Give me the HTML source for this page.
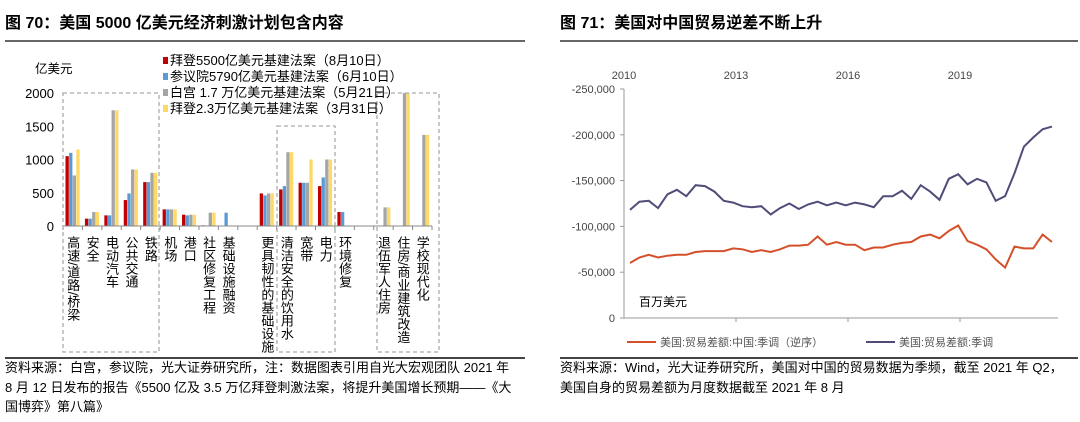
<!DOCTYPE html>
<html><head><meta charset="utf-8">
<style>
body{margin:0;width:1080px;height:422px;background:#fff;overflow:hidden;position:relative;font-family:"Liberation Sans","Noto Sans CJK SC",sans-serif;color:#000}
.abs{position:absolute;white-space:nowrap}
.title{font-size:16px;font-weight:bold;top:9px}
.hr{position:absolute;height:2px;background:#666}
.src{font-size:13px;line-height:19.5px;white-space:normal}
</style></head><body>
<div class="abs title" style="left:5px">图 70：美国 5000 亿美元经济刺激计划包含内容</div>
<div class="abs title" style="left:560px">图 71：美国对中国贸易逆差不断上升</div>
<div class="hr" style="left:5px;top:40px;width:520px"></div>
<div class="hr" style="left:560px;top:40px;width:518px"></div>
<div class="hr" style="left:5px;top:357px;width:520px;height:1.5px;background:#444"></div>
<div class="hr" style="left:560px;top:357px;width:518px;height:1.5px;background:#444"></div>
<div class="abs src" style="left:5px;top:358px;width:512px">资料来源：白宫，参议院，光大证券研究所，注：数据图表引用自光大宏观团队 2021 年 8 月 12 日发布的报告《5500 亿及 3.5 万亿拜登刺激法案，将提升美国增长预期——《大国博弈》第八篇》</div>
<div class="abs src" style="left:560px;top:358px;width:515px">资料来源：Wind，光大证券研究所，美国对中国的贸易数据为季频，截至 2021 年 Q2，美国自身的贸易差额为月度数据截至 2021 年 8 月</div>

<svg id="left" width="540" height="358" style="position:absolute;left:0;top:0"></svg>
<svg id="right" width="540" height="358" style="position:absolute;left:540px;top:0"></svg>

<script>
const categories=["高速/道路/桥梁","安全","电动汽车","公共交通","铁路","机场","港口","社区修复工程","基础设施融资","","更具韧性的基础设施","清洁安全的饮用水","宽带","电力","环境修复","","退伍军人住房","住房/商业建筑改造","学校现代化"];
const biden550=[1050,110,160,390,660,250,170,10,0,0,490,550,650,600,210,0,0,0,0];
const senate579=[1100,110,160,490,660,250,160,0,200,0,460,600,650,730,210,0,0,0,0];
const whiteHouse17=[760,210,1740,850,800,250,170,200,0,0,490,1110,650,1000,0,0,280,2000,1370];
const biden23=[1150,210,1740,850,800,250,170,200,0,0,490,1110,1000,1000,0,0,280,2000,1370];
const leftTicks=[0,500,1000,1500,2000];
const seriesNames=["拜登5500亿美元基建法案（8月10日）","参议院5790亿美元基建法案（6月10日）","白宫 1.7 万亿美元基建法案（5月21日）","拜登2.3万亿美元基建法案（3月31日）"];

const years=["2010","2013","2016","2019"];
const rightTicks=[0,-50000,-100000,-150000,-200000,-250000];
const chinaDeficit=[-60000,-66000,-69000,-66000,-68000,-69000,-69000,-72000,-73000,-73000,-73000,-76000,-75000,-72000,-74000,-72000,-75000,-79000,-79000,-80000,-89000,-80000,-83000,-80000,-80000,-74000,-77000,-77000,-80000,-82000,-83000,-89000,-91000,-87000,-95000,-101000,-84000,-80000,-75000,-64000,-55000,-78000,-76000,-76000,-91000,-83000];
const usDeficit=[-118000,-127000,-128000,-120000,-135000,-140000,-133000,-145000,-144000,-138000,-128000,-126000,-122000,-121000,-122000,-113000,-120000,-125000,-119000,-124000,-127000,-123000,-126000,-123000,-126000,-124000,-121000,-133000,-133000,-139000,-130000,-145000,-138000,-129000,-152000,-157000,-146000,-152000,-148000,-128000,-133000,-158000,-187000,-197000,-206000,-209000];

const NS="http://www.w3.org/2000/svg";
function mk(svg,tag,attrs,text){const e=document.createElementNS(NS,tag);for(const k in attrs)e.setAttribute(k,attrs[k]);if(text!==undefined)e.textContent=text;svg.appendChild(e);return e;}

// LEFT
(function(){
const svg=document.getElementById('left');
const x0=63,x1=432,y0=226,y2000=93;
const slot=(x1-x0)/categories.length;
const Y=v=>y0-(v/2000)*(y0-y2000);
const X=i=>x0+slot*i;
const F='"Liberation Sans","Noto Sans CJK SC",sans-serif';
leftTicks.forEach(t=>{const e=mk(svg,'text',{x:54,y:Y(t)+5,'text-anchor':'end','font-size':13,'font-family':F},t);

});
const u=mk(svg,'text',{x:35,y:73,'font-size':12.5,'font-family':F},'亿美元');


const series=[biden550,senate579,whiteHouse17,biden23];
const colors=['#c00000','#5b9bd5','#a5a5a5','#ffd966'];
const bw=3.6;
categories.forEach((c,i)=>{
 series.forEach((s,k)=>{const v=s[i];if(!v)return;
  const r=mk(svg,'rect',{x:X(i)+2.5+k*bw,y:Y(v),width:bw-0.3,height:y0-Y(v),fill:colors[k]});
  
  
 });
 if(c){const t=mk(svg,'text',{x:X(i)+slot/2,y:236,'font-size':13,'font-family':F,style:'writing-mode:vertical-rl;text-orientation:mixed'},c);
 
 }
});
const ax=mk(svg,'line',{x1:x0,y1:y0,x2:x1,y2:y0,stroke:'#888','stroke-width':1});


for(let i=0;i<=categories.length;i++){mk(svg,'line',{x1:X(i),y1:y0,x2:X(i),y2:y0+4,stroke:'#888'});}
[[63,93,159],[277,126,335],[377,93,439]].forEach(b=>{const r=mk(svg,'rect',{x:b[0],y:b[1],width:b[2]-b[0],height:352-b[1],fill:'none',stroke:'#aaa','stroke-width':1.3,'stroke-dasharray':'4,3'});

});
seriesNames.forEach((n,k)=>{
 const g=mk(svg,'g',{});
 
 
 mk(g,'rect',{x:163,y:57+k*16,width:5,height:7,fill:colors[k]});
 mk(g,'text',{x:170,y:65+k*16,'font-size':13,'font-family':F},n);
});
})();

// RIGHT
(function(){
const svg=document.getElementById('right');
const off=540;
const xa=624-off,xb=1058-off,x0=630-off,xN=1052-off,yb=318,yt=89;
const Y=v=>yb-(v/-250000)*(yb-yt);
const X=i=>x0+(xN-x0)*i/(usDeficit.length-1);
const F='"Liberation Sans","Noto Sans CJK SC",sans-serif';
rightTicks.forEach(t=>{const lab=t===0?'0':'-'+Math.abs(t).toLocaleString('en-US');
 const e=mk(svg,'text',{x:xa-9,y:Y(t)+4,'text-anchor':'end','font-size':11,fill:'#444','font-family':F},lab);
 
 
 mk(svg,'line',{x1:xa-4,y1:Y(t),x2:xa,y2:Y(t),stroke:'#999'});
});
years.forEach((y,k)=>{const x=xa+k*112;
 const e=mk(svg,'text',{x:x,y:79,'text-anchor':'middle','font-size':11,fill:'#444','font-family':F},y);
 
 
 if(k>0)mk(svg,'line',{x1:x,y1:yb,x2:x,y2:yb+4,stroke:'#999'});
});
const a1=mk(svg,'line',{x1:xa,y1:yt,x2:xa,y2:yb,stroke:'#999'});


const a2=mk(svg,'line',{x1:xa,y1:yb,x2:xb,y2:yb,stroke:'#999'});


const pts=s=>s.map((v,i)=>X(i).toFixed(1)+','+Y(v).toFixed(1)).join(' ');
const l1=mk(svg,'polyline',{points:pts(chinaDeficit),fill:'none',stroke:'#d4502a','stroke-width':2});


const l2=mk(svg,'polyline',{points:pts(usDeficit),fill:'none',stroke:'#4f4d78','stroke-width':2});


const u=mk(svg,'text',{x:639-off,y:306,'font-size':12,'font-family':F},'百万美元');


const g1=mk(svg,'g',{});


mk(g1,'line',{x1:627-off,y1:342,x2:656-off,y2:342,stroke:'#d4502a','stroke-width':2});
mk(g1,'text',{x:660-off,y:346,'font-size':11,fill:'#555','font-family':F},'美国:贸易差额:中国:季调（逆序）');
const g2=mk(svg,'g',{});


mk(g2,'line',{x1:866-off,y1:342,x2:895-off,y2:342,stroke:'#4f4d78','stroke-width':2});
mk(g2,'text',{x:899-off,y:346,'font-size':11,fill:'#555','font-family':F},'美国:贸易差额:季调');
})();
</script>
</body></html>
